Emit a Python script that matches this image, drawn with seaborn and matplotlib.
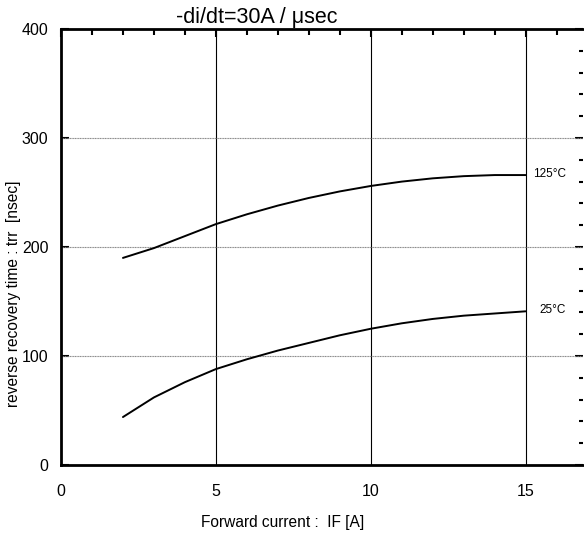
import numpy as np
import pandas as pd
import seaborn as sns
import matplotlib.pyplot as plt
from matplotlib.ticker import MultipleLocator

# --- data ---
forward_current = [2, 3, 4, 5, 6, 7, 8, 9, 10, 11, 12, 13, 14, 15]
trr_125c = [190, 199, 210, 221, 230, 238, 245, 251, 256, 260, 263, 265, 266, 266]
trr_25c = [44, 62, 76, 88, 97, 105, 112, 119, 125, 130, 134, 137, 139, 141]
series_labels = ['125°C', '25°C']
x_ticks = [0, 5, 10, 15]
y_ticks = [0, 100, 200, 300, 400]

df = pd.concat([
    pd.DataFrame({'IF': forward_current, 'trr': trr_125c, 'temp': series_labels[0]}),
    pd.DataFrame({'IF': forward_current, 'trr': trr_25c, 'temp': series_labels[1]}),
])

sns.set_style('white')
plt.rcParams['font.family'] = ['Liberation Sans', 'DejaVu Sans']
plt.rcParams['text.color'] = 'black'
plt.rcParams['xtick.color'] = 'black'
plt.rcParams['ytick.color'] = 'black'

fig = plt.figure(figsize=(5.84, 5.35), dpi=100)
ax = fig.add_axes([61 / 584, 70 / 535, 522 / 584, 436 / 535])

sns.lineplot(data=df, x='IF', y='trr', units='temp', estimator=None,
             color='black', linewidth=1.4, legend=False, ax=ax)

ax.set_xlim(0, 16.85)
ax.set_ylim(0, 400)
ax.set_xticks(x_ticks)
ax.set_yticks(y_ticks)
ax.xaxis.set_minor_locator(MultipleLocator(1))
ax.yaxis.set_minor_locator(MultipleLocator(20))

# grid: solid verticals, dotted grey horizontals
for xv in x_ticks[1:]:
    ax.axvline(xv, color='black', linewidth=0.8, zorder=1)
for yv in y_ticks[1:-1]:
    ax.axhline(yv, color='#888888', linewidth=0.8, linestyle=(0, (1, 0.5)), zorder=1)

ax.tick_params(which='both', direction='in', top=True, right=True,
               labelsize=11.5, width=1.5, color='black', labelcolor='black')
ax.tick_params(which='major', length=6)
ax.tick_params(which='minor', length=4)
ax.tick_params(axis='y', which='both', right=True, length=3)
ax.tick_params(axis='y', which='major', left=True, length=6)
ax.tick_params(axis='x', pad=14)
ax.tick_params(axis='y', pad=9)
for side in ['left', 'bottom', 'top']:
    ax.spines[side].set_linewidth(2)
    ax.spines[side].set_color('black')
ax.spines['right'].set_visible(False)

ax.set_xlabel('')
ax.set_ylabel('')

ax.text(15.25, trr_125c[-1] + 1, series_labels[0], fontsize=8.5, va='center', ha='left')
ax.text(15.45, trr_25c[-1] + 1, series_labels[1], fontsize=8.5, va='center', ha='left')

fig.text(257 / 584, 1 - 18 / 535, '-di/dt=30A / μsec', fontsize=15.5, ha='center', va='center')
fig.text(283 / 584, 1 - 522 / 535, 'Forward current :  IF [A]', fontsize=11.2,
         ha='center', va='center')
fig.text(14 / 584, 1 - 294 / 535, 'reverse recovery time : trr  [nsec]', fontsize=11.2,
         rotation=90, ha='center', va='center')

fig.savefig('out.png', dpi=100)
